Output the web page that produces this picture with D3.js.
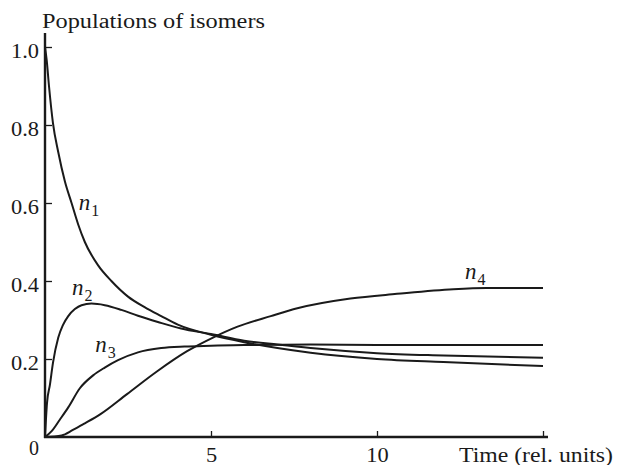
<!DOCTYPE html>
<html><head><meta charset="utf-8">
<script src="https://cdn.jsdelivr.net/npm/d3@7"></script>
<style>body{margin:0;background:#fff}svg{display:block}</style>
</head><body>
<svg id="c" width="618" height="465" font-family="'Times New Roman', 'Liberation Serif', Tinos, serif"></svg>
<script>
const n1T = [0, 0.05, 0.12, 0.24, 0.4, 0.6, 0.8, 1.0, 1.2, 1.6, 2.0, 2.5, 3.0, 3.5, 4.0, 5.0, 6, 7, 8, 10, 12, 15];
const n1V = [1.0, 0.967, 0.9, 0.805, 0.73, 0.655, 0.6, 0.545, 0.5, 0.44, 0.4, 0.36, 0.333, 0.31, 0.288, 0.262, 0.243, 0.228, 0.216, 0.2, 0.192, 0.182];
const n2T = [0, 0.06, 0.15, 0.24, 0.4, 0.54, 0.7, 0.9, 1.1, 1.4, 1.8, 2.3, 2.8, 3.4, 4.1, 5, 6, 7, 8, 10, 12, 15];
const n2V = [0, 0.087, 0.135, 0.19, 0.255, 0.287, 0.31, 0.328, 0.338, 0.342, 0.338, 0.326, 0.311, 0.295, 0.278, 0.264, 0.247, 0.237, 0.228, 0.215, 0.209, 0.203];
const n3T = [0, 0.2, 0.45, 0.7, 1.05, 1.45, 1.8, 2.2, 2.8, 3.5, 4.2, 5, 6, 8, 10, 12, 15];
const n3V = [0, 0.015, 0.045, 0.076, 0.125, 0.158, 0.178, 0.197, 0.217, 0.228, 0.232, 0.234, 0.236, 0.237, 0.236, 0.236, 0.236];
const n4T = [0, 0.5, 0.84, 1.2, 1.66, 2.47, 3.37, 4.28, 5.06, 5.8, 6.8, 7.6, 9.2, 10.6, 12.3, 13.3, 15];
const n4V = [0, 0.004, 0.018, 0.035, 0.058, 0.11, 0.168, 0.22, 0.255, 0.283, 0.31, 0.33, 0.355, 0.367, 0.379, 0.382, 0.382];
const seriesNames = ["1", "2", "3", "4"];
const labelT = [1.02, 0.81, 1.51, 12.65];
const labelV = [0.582, 0.364, 0.218, 0.405];
const yTicks = [0.2, 0.4, 0.6, 0.8, 1.0];
const xTicks = [5, 10, 15];
const xTickLabels = ["5", "10", ""];

const series = [[n1T, n1V], [n2T, n2V], [n3T, n3V], [n4T, n4V]].map(([t, v]) => t.map((d, i) => [d, v[i]]));

const svg = d3.select("#c");
const FONT = "'Times New Roman', 'Liberation Serif', Tinos, serif";
const x = d3.scaleLinear().domain([0, 15]).range([45, 543]);
const y = d3.scaleLinear().domain([0, 1]).range([437, 47]);
const ink = "#1a1a1a";

function stretch(sel, f) {
  sel.each(function () {
    const w = this.getComputedTextLength();
    if (w > 0) d3.select(this).attr("textLength", w * f).attr("lengthAdjust", "spacingAndGlyphs");
  });
}

// Y axis
const ya = svg.append("g").attr("transform", `translate(${x(0)},0)`)
  .call(d3.axisLeft(y).tickValues(yTicks).tickFormat(d3.format(".1f")).tickSize(-7).tickSizeOuter(0).tickPadding(6));
ya.attr("font-family", FONT);
ya.select(".domain").remove();
ya.selectAll(".tick line").attr("stroke", ink).attr("stroke-width", 1.3);
ya.selectAll("text").attr("font-size", 20).attr("dy", "0.5em").attr("fill", ink);
svg.append("line").attr("x1", x(0)).attr("x2", x(0)).attr("y1", 33).attr("y2", y(0) + 1).attr("stroke", ink).attr("stroke-width", 2.4);

// X axis
const xa = svg.append("g").attr("transform", `translate(0,${y(0)})`)
  .call(d3.axisBottom(x).tickValues(xTicks).tickFormat((d, i) => xTickLabels[i]).tickSize(-6).tickSizeOuter(0).tickPadding(11));
xa.attr("font-family", FONT);
xa.select(".domain").remove();
xa.selectAll(".tick line").attr("stroke", ink).attr("stroke-width", 1.3);
xa.selectAll("text").attr("font-size", 20).attr("fill", ink);
svg.append("line").attr("x1", x(0) - 1).attr("x2", 548).attr("y1", y(0)).attr("y2", y(0)).attr("stroke", ink).attr("stroke-width", 2.4);

// origin label
svg.append("text").attr("x", 39).attr("y", 455).attr("text-anchor", "end").attr("font-size", 20).attr("fill", ink).text("0");

// Titles
svg.append("text").attr("x", 42).attr("y", 28).attr("font-size", 20).attr("fill", ink).text("Populations of isomers")
  .attr("textLength", 223).attr("lengthAdjust", "spacingAndGlyphs");
svg.append("text").attr("x", 459).attr("y", 462).attr("font-size", 20).attr("fill", ink).text("Time (rel. units)")
  .attr("textLength", 154).attr("lengthAdjust", "spacingAndGlyphs");

stretch(svg.selectAll(".tick text"), 1.12);

// Curves
const line = d3.line().x(d => x(d[0])).y(d => y(d[1])).curve(d3.curveMonotoneX);
svg.append("g").selectAll("path").data(series).join("path")
  .attr("d", line).attr("fill", "none").attr("stroke", ink).attr("stroke-width", 2).attr("stroke-linejoin", "round");

// Curve labels
const lab = svg.append("g").selectAll("text").data(seriesNames).join("text")
  .attr("x", (d, i) => x(labelT[i])).attr("y", (d, i) => y(labelV[i]))
  .attr("font-size", 23).attr("font-style", "italic").attr("fill", ink);
lab.append("tspan").text("n");
lab.append("tspan").attr("dx", 1).attr("dy", 6).attr("font-size", 16).attr("font-style", "normal").text(d => d);
</script>
</body></html>
